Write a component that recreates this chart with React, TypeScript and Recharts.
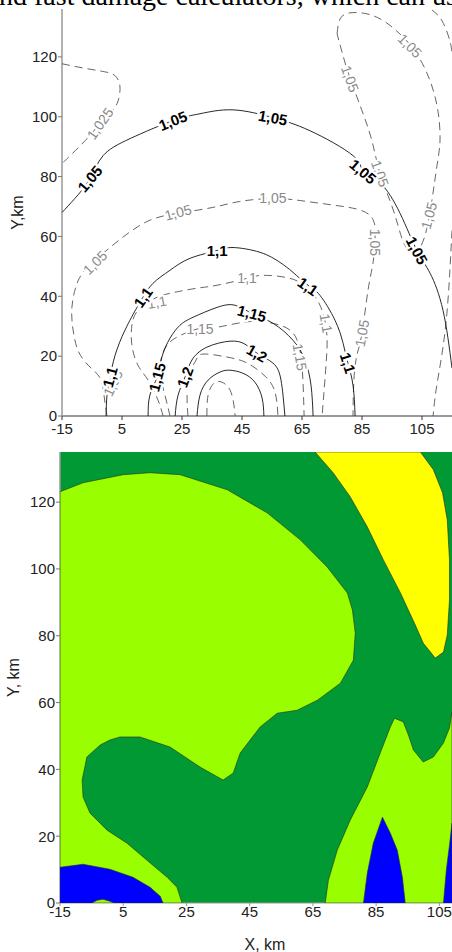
import React from 'react';
import { ScatterChart, Scatter, XAxis, YAxis, Curve, CartesianGrid } from 'recharts';

// ---------- top chart: contour lines (x km, y km) ----------
const xTicks = [-15, 5, 25, 45, 65, 85, 105];
const yTicks = [0, 20, 40, 60, 80, 100, 120];

const solid105 = [[-15, 68], [-10.7, 72.7], [-5.7, 79.3], [-1.3, 87], [7.7, 92.7], [22, 98.7], [31, 101], [42, 102.3], [55.3, 99.7], [67.7, 95.3], [82, 87], [85.3, 82], [91, 78], [97.7, 67.7], [103.3, 55.3], [107.7, 47.7], [112, 35.3], [115, 16]];
const solid11 = [[-0.3, 0], [0, 7], [1, 13], [2.7, 20.3], [6, 28.7], [10, 36.3], [12, 39.7], [15.3, 44.3], [21, 48.7], [27.7, 52.7], [36.7, 55.3], [42, 56.3], [51, 54.7], [57.7, 51.3], [62, 48], [67, 43.7], [71, 40.3], [76, 32], [78.7, 24.3], [80.3, 17.7], [82, 10.3], [82.7, 0]];
const solid115 = [[13.7, 0], [14.3, 7], [16.7, 13], [18.3, 19.7], [21, 26], [24.3, 30.3], [28.7, 33], [36.7, 36.3], [42.7, 37], [48.3, 34.3], [55.3, 31], [62, 25.3], [66, 18.7], [68, 10.3], [68.7, 0]];
const solid12 = [[22.7, 0], [23.7, 7], [26, 13], [28.3, 18.7], [33.3, 23], [41, 25], [46, 24], [50, 21], [55.3, 17.7], [58, 12], [59.3, 0]];
const solidInner = [[30, 0], [31, 7], [33.7, 12], [37.7, 14.7], [41, 15.3], [45.3, 14.3], [49.3, 11.3], [51.7, 6], [52.3, 0]];

const dash1025 = [[-15, 117.7], [-8, 116.3], [-0.7, 115], [2.7, 113.7], [4.3, 110.3], [3.7, 105.3], [1.7, 102], [-2.3, 97.7], [-7.3, 92], [-12.3, 87], [-15, 84.3]];
const dash105Arc = [[0, 0], [-1, 7], [-2.3, 12.7], [-6.3, 17], [-9.7, 22], [-11.3, 28.7], [-11.7, 36.3], [-10, 44.3], [-7.3, 48.7], [-4, 52], [1, 56.3], [12, 64.3], [23.3, 67.7], [35.3, 69.7], [44.3, 71.7], [55.3, 72.7], [64.3, 72], [76.7, 70.3], [87.7, 67], [89.3, 58.7], [88.7, 51.3], [87, 42], [85, 27.7], [83.3, 20.3], [82.3, 12], [82, 0]];
const dash11 = [[18.7, 0], [17, 5.3], [13.7, 12], [10.3, 17], [8.3, 23.7], [8.3, 30.3], [10.3, 35.3], [15.3, 39], [21, 41], [30, 42.7], [36.7, 43.7], [46.7, 46], [52, 47], [61, 46], [67.7, 42], [71.7, 35.3], [73.3, 27], [73, 17], [71.7, 0]];
const dash115 = [[21, 0], [19.3, 7], [17.7, 14.7], [18.7, 21.3], [22.7, 26], [31, 29.3], [36.7, 29.7], [45.3, 31.3], [53.3, 31.3], [61, 28.7], [64.3, 22], [65.3, 12], [65.7, 0]];
const dash12 = [[27, 0], [26.7, 7], [27.7, 14.7], [29.7, 18.7], [32, 20.7], [40, 19.7], [46.7, 17.7], [52.7, 13.3], [56, 8], [57, 0]];
const dashInner = [[33.3, 0], [33.7, 7], [35.7, 11], [38.3, 11.3], [41, 8.7], [42.3, 3.7], [42.7, 0]];
const dash105Loop = [[76.7, 127.7], [77.7, 132.7], [81, 134.7], [87, 134.3], [93.3, 131.3], [99.3, 126], [103.7, 120.3], [107.7, 112], [110.3, 102], [111, 92], [110, 83.7], [108.3, 72], [106, 60.3], [102.7, 54.7], [99.3, 57], [97, 63.7], [94.3, 72], [91, 81], [88.3, 92], [85, 102], [81, 113], [78.7, 120.3], [76.7, 127.7]];
const dash105EdgeTop = [[108.3, 135.7], [111.7, 132], [114.3, 125.3], [115, 121]];
const dash105EdgeRight = [[115, 62], [114.3, 48.7], [113.3, 34.3], [111.7, 21], [109.7, 8.7], [108.7, 0]];

const labelsMajor = [
  { x: -5.7, y: 79.3, t: '1,05', a: -50 },
  { x: 22, y: 98.7, t: '1,05', a: -22 },
  { x: 55.3, y: 99.7, t: '1,05', a: 10 },
  { x: 85.3, y: 81.7, t: '1,05', a: 40 },
  { x: 103.3, y: 55.3, t: '1,05', a: 62 },
  { x: 36.7, y: 55.3, t: '1,1', a: 0 },
  { x: 67, y: 43.3, t: '1,1', a: 35 },
  { x: 12, y: 39.7, t: '1,1', a: -55 },
  { x: 1, y: 13, t: '1,1', a: -75 },
  { x: 80.3, y: 17.7, t: '1,1', a: 72 },
  { x: 48.3, y: 34.3, t: '1,15', a: 15 },
  { x: 16.7, y: 13, t: '1,15', a: -75 },
  { x: 50, y: 21, t: '1,2', a: 30 },
  { x: 26, y: 13, t: '1,2', a: -70 },
];
const labelsMinor = [
  { x: -2.3, y: 97.7, t: '1,025', a: -55 },
  { x: -4, y: 51.3, t: '1,05', a: -45 },
  { x: 23.7, y: 68, t: '1,05', a: -15 },
  { x: 55.3, y: 72.7, t: '1,05', a: 0 },
  { x: 89.3, y: 58, t: '1,05', a: 90 },
  { x: 85, y: 27.7, t: '1,05', a: -80 },
  { x: 81, y: 112.7, t: '1,05', a: 70 },
  { x: 91, y: 81, t: '1,05', a: 70 },
  { x: 101, y: 123.7, t: '1,05', a: 45 },
  { x: 107.3, y: 67, t: '1,05', a: -75 },
  { x: 16.7, y: 38, t: '1,1', a: -10 },
  { x: 46.7, y: 46, t: '1,1', a: 0 },
  { x: 73, y: 31, t: '1,1', a: 80 },
  { x: 31, y: 29, t: '1,15', a: 0 },
  { x: 64.3, y: 19.7, t: '1,15', a: 80 },
  { x: 2, y: 11, t: '1,05', a: -65 },
];

// ---------- bottom chart: filled zones ----------
const zoneWestLight = [[-15, 123.1], [-7.7, 125.8], [5, 128.2], [13.5, 128.8], [23, 128.2], [37.9, 123.7], [50.5, 116.8], [61, 108.7], [69.5, 100.6], [75.9, 92.8], [77.5, 87.7], [78.4, 80.8], [77.8, 72.7], [73.7, 65.8], [66.4, 60.7], [60, 57.7], [53.7, 56.8], [48.3, 52.7], [42, 44.9], [39.8, 38.9], [36.6, 36.8], [29.3, 40.7], [19.8, 46.7], [10.3, 49.7], [4, 49.7], [0.8, 48.8], [-2.3, 47.3], [-6.5, 43.7], [-8, 36.8], [-7.7, 31.7], [-5.5, 26.9], [-0.1, 21.8], [6.2, 17.9], [12.5, 12.8], [18.9, 7.7], [22, 4.7], [23.6, 0], [-15, 0]];
const zoneEastLight = [[68.9, 0], [69.9, 6.8], [72.7, 15.8], [76.8, 24.8], [82.2, 34.7], [86.3, 44.9], [89.5, 52.7], [90.8, 55.3], [93.6, 54.2], [95.2, 50.3], [96.8, 45.8], [99.9, 42.2], [103.1, 43.7], [106.3, 47.9], [108.2, 52.4], [109, 57.2], [109, 0]];
const zoneYellow = [[65.7, 135], [71.4, 128.8], [76.8, 121.6], [82.2, 112.6], [87.3, 102.7], [92.7, 92.8], [95.2, 87.7], [97.4, 83.2], [99.9, 77.8], [102.2, 75.1], [103.7, 73.3], [106.3, 75.1], [107.5, 80.2], [108.2, 90.7], [108.2, 102.7], [107.5, 114.7], [106, 122.8], [103.1, 129.7], [99, 135]];
const zoneBlueWest = [[-15, 10.7], [-7.7, 11.6], [0.8, 10.1], [8.1, 7.7], [13.5, 4.7], [16.7, 2], [17.6, 0], [-15, 0]];
const zoneLightPatch = [[-4.9, 0], [-3.3, 0.8], [-1.4, 1.1], [0.8, 0.5], [2.1, 0]];
const zoneBlueSpike = [[81, 0], [82.2, 8.9], [84.1, 17.9], [87, 25.7], [89.5, 20.9], [91.7, 15.8], [93.3, 7.7], [94.2, 0]];
const zoneBlueEast = [[106.3, 0], [107.2, 9.8], [108.2, 17.3], [109, 23.9], [109, 0]];

const toPts = (arr: number[][]) => arr.map(([x, y]) => ({ x, y }));
const FONT = "'Liberation Sans', Arial, sans-serif";

const noShape = () => <g />;

const lineRenderer = (stroke: string, dash?: string) => (p: any) => (
  <Curve points={p.points} type="natural" stroke={stroke} strokeWidth={0.9} strokeDasharray={dash} fill="none" />
);
const zoneRenderer = (fill: string) => (p: any) => (
  <Curve points={p.points} type="linearClosed" fill={fill} stroke="#2a2a2a" strokeWidth={0.6} />
);

const labelShape = (major: boolean) => (p: any) => {
  const { cx, cy, payload } = p;
  return (
    <text
      x={cx}
      y={cy}
      transform={`rotate(${payload.a} ${cx} ${cy})`}
      textAnchor="middle"
      dominantBaseline="central"
      fontFamily={FONT}
      fontSize={major ? 15 : 14}
      fontWeight={major ? 'bold' : 'normal'}
      fill={major ? '#000' : '#8a8a8a'}
      stroke="#fff"
      strokeWidth={major ? 5 : 4}
      strokeLinejoin="round"
      paintOrder="stroke"
    >
      {payload.t}
    </text>
  );
};

const yTitle = (text: string, cx: number) => (props: any) => {
  const vb = props.viewBox || { y: 0, height: 0 };
  const cy = vb.y + vb.height / 2;
  return (
    <text x={cx} y={cy} transform={`rotate(-90 ${cx} ${cy})`} textAnchor="middle" dominantBaseline="central" fontFamily={FONT} fontSize={16} fill="#222">
      {text}
    </text>
  );
};
const xTitle = (text: string, dx: number) => (props: any) => {
  const vb = props.viewBox || { x: 0, width: 0, y: 0, height: 0 };
  return (
    <text x={vb.x + vb.width / 2 + dx} y={vb.y + vb.height - 8} textAnchor="middle" dominantBaseline="central" fontFamily={FONT} fontSize={16} fill="#222">
      {text}
    </text>
  );
};

const tickStyle = { fontSize: 15, fill: '#222', fontFamily: FONT };

const topSolid = [solid105, solid11, solid115, solid12, solidInner];
const topDashed = [dash1025, dash105Arc, dash11, dash115, dash12, dashInner, dash105Loop, dash105EdgeTop, dash105EdgeRight];

export default function App() {
  return (
    <div style={{ position: 'absolute', left: 0, top: 0, width: 452, height: 952, overflow: 'hidden', background: '#fff' }}>
      <div style={{ position: 'absolute', left: 0, top: 0 }}>
        <ScatterChart width={452} height={440} margin={{ top: 9, right: 0, bottom: 0, left: 0 }}>
          <XAxis type="number" dataKey="x" domain={[-15, 115]} ticks={xTicks} allowDataOverflow height={24} tickSize={4} tickMargin={3} axisLine={{ stroke: '#333' }} tickLine={{ stroke: '#333' }} tick={tickStyle} interval={0} />
          <XAxis xAxisId="top" orientation="top" type="number" domain={[-15, 115]} ticks={xTicks} allowDataOverflow height={0} tickSize={4} tickFormatter={() => ''} axisLine={{ stroke: '#999' }} tickLine={{ stroke: '#999' }} interval={0} />
          <YAxis type="number" dataKey="y" domain={[0, 136]} ticks={yTicks} allowDataOverflow width={62} tickSize={4} tickMargin={1} axisLine={{ stroke: '#999', strokeWidth: 1.5 }} tickLine={{ stroke: '#777' }} tick={tickStyle} interval={0} label={yTitle('Y,km', 17)} />
          {topDashed.map((d, i) => (
            <Scatter key={'d' + i} data={toPts(d)} isAnimationActive={false} shape={noShape} line={lineRenderer('#555', '8 5')} />
          ))}
          {topSolid.map((d, i) => (
            <Scatter key={'s' + i} data={toPts(d)} isAnimationActive={false} shape={noShape} line={lineRenderer('#111')} />
          ))}
          <Scatter data={labelsMinor} isAnimationActive={false} shape={labelShape(false)} />
          <Scatter data={labelsMajor} isAnimationActive={false} shape={labelShape(true)} />
        </ScatterChart>
      </div>
      <div style={{ position: 'absolute', left: 0, top: 440 }}>
        <ScatterChart width={452} height={512} margin={{ top: 12, right: 0, bottom: 0, left: 0 }}>
          <CartesianGrid horizontal={false} vertical={false} fill="#009933" fillOpacity={1} stroke="none" />
          <XAxis type="number" dataKey="x" domain={[-15, 109]} ticks={xTicks} allowDataOverflow height={49} tickSize={3} tickMargin={0} axisLine={{ stroke: '#999' }} tickLine={{ stroke: '#999' }} tick={tickStyle} interval={0} label={xTitle('X, km', 9)} />
          <XAxis xAxisId="top" orientation="top" type="number" domain={[-15, 109]} ticks={xTicks} allowDataOverflow height={0} tickSize={4} tickFormatter={() => ''} axisLine={{ stroke: '#222' }} tickLine={{ stroke: '#999' }} interval={0} />
          <YAxis type="number" dataKey="y" domain={[0, 135]} ticks={yTicks} allowDataOverflow width={60} tickSize={4} tickMargin={1} axisLine={{ stroke: '#999', strokeWidth: 1.5 }} tickLine={{ stroke: '#777' }} tick={tickStyle} interval={0} label={yTitle('Y, km', 13)} />
          <Scatter data={toPts(zoneWestLight)} isAnimationActive={false} shape={noShape} line={zoneRenderer('#99ff00')} />
          <Scatter data={toPts(zoneEastLight)} isAnimationActive={false} shape={noShape} line={zoneRenderer('#99ff00')} />
          <Scatter data={toPts(zoneYellow)} isAnimationActive={false} shape={noShape} line={zoneRenderer('#ffff00')} />
          <Scatter data={toPts(zoneBlueWest)} isAnimationActive={false} shape={noShape} line={zoneRenderer('#0000ff')} />
          <Scatter data={toPts(zoneLightPatch)} isAnimationActive={false} shape={noShape} line={zoneRenderer('#99ff00')} />
          <Scatter data={toPts(zoneBlueSpike)} isAnimationActive={false} shape={noShape} line={zoneRenderer('#0000ff')} />
          <Scatter data={toPts(zoneBlueEast)} isAnimationActive={false} shape={noShape} line={zoneRenderer('#0000ff')} />
        </ScatterChart>
      </div>
      <svg style={{ position: 'absolute', left: 0, top: 0 }} width={452} height={14}>
        <text x={-1} y={5} fontFamily="'Liberation Serif', 'Times New Roman', serif" fontSize={28} fill="#000">
          nd fast damage calculators, which can use
        </text>
      </svg>
    </div>
  );
}
